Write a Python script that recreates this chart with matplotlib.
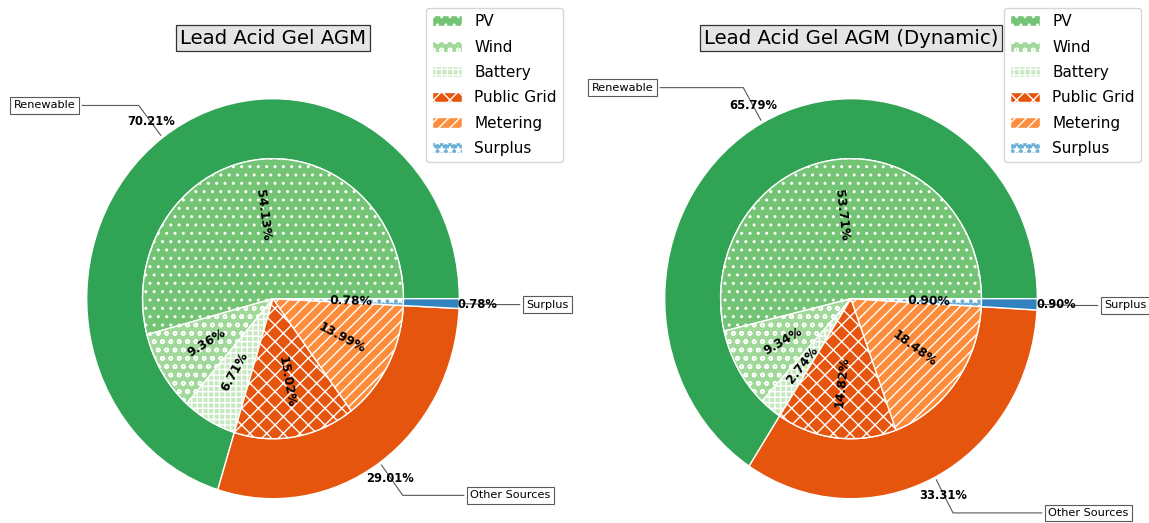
import matplotlib.pyplot as plt
import numpy as np

# ---------------------------------------------------------------
# data
# ---------------------------------------------------------------
inner_labels = ['PV', 'Wind', 'Battery', 'Public Grid', 'Metering', 'Surplus']
outer_labels = ['Renewable', 'Other Sources', 'Surplus']
titles = ['Lead Acid Gel AGM', 'Lead Acid Gel AGM (Dynamic)']

agm_inner = [54.13, 9.36, 6.71, 15.02, 13.99, 0.78]
agm_outer = [70.21, 29.01, 0.78]

dyn_inner = [53.71, 9.34, 2.74, 14.82, 18.48, 0.90]
dyn_outer = [65.79, 33.31, 0.90]

# styles
inner_colors = ['#74c476', '#a1d99b', '#c7e9c0', '#e6550d', '#fd8d3c', '#6baed6']
outer_colors = ['#31a354', '#e6550d', '#3182bd']
inner_hatches = ['..', 'oo', '+++', 'xx', '///', '**']
label_x = [-1.06, 1.06, 1.36]

W, H = 1149, 523
fig = plt.figure(figsize=(W / 100, H / 100), dpi=100)

# pixel geometry of each pie (centre and radius)
rx, ry = 186.3, 200.0
cy = 298.7
lim = 1.3


def make_axes(cx):
    # axes placed so the unit circle lands on the reference pixels
    w = 2 * lim * rx
    h = 2 * lim * ry
    left = cx - w / 2
    bottom = (H - cy) - h / 2
    return fig.add_axes([left / W, bottom / H, w / W, h / H])


def nested_pie(ax, inner, outer, title, cx, legend_right):
    # outer ring
    wo, _, to = ax.pie(outer, radius=1, colors=outer_colors,
                       autopct='%1.2f%%', pctdistance=1.1,
                       wedgeprops=dict(width=0.3, edgecolor='w', linewidth=1))
    for t, v in zip(to, outer):
        t.set_text(f'{v:.2f}%')
        t.set_fontsize(8.3)
        t.set_fontweight('bold')

    # inner pie
    wi, _, ti = ax.pie(inner, radius=0.7, colors=inner_colors,
                       autopct='%1.2f%%', pctdistance=0.6,
                       wedgeprops=dict(edgecolor='w', linewidth=1))
    for w, h in zip(wi, inner_hatches):
        w.set_hatch(h)
    for t, w, v in zip(ti, wi, inner):
        ang = (w.theta1 + w.theta2) / 2
        rot = ang - 180 if 90 < ang < 270 else ang
        t.set_text(f'{v:.2f}%')
        t.set_rotation(rot)
        t.set_fontsize(8.9)
        t.set_fontweight('bold')

    # labels of the outer ring
    bbox_props = dict(boxstyle='square,pad=0.3', fc='w', ec='0.35', lw=0.8)
    for i, w in enumerate(wo):
        ang = (w.theta1 + w.theta2) / 2
        x = np.cos(np.deg2rad(ang))
        y = np.sin(np.deg2rad(ang))
        ha = 'right' if x < 0 else 'left'
        ax.annotate(outer_labels[i], xy=(x, y), xytext=(label_x[i], 1.2 * y),
                    ha=ha, va='center', fontsize=8.1, bbox=bbox_props, zorder=0,
                    arrowprops=dict(arrowstyle='-', color='0.35', lw=0.8,
                                    connectionstyle=f'angle,angleA=0,angleB={ang}'))

    ax.set_aspect('auto')
    ax.set_xlim(-lim, lim)
    ax.set_ylim(-lim, lim)
    ax.axis('off')

    # title box
    fig.text(cx / W, 1 - 38 / H, title, ha='center', va='center', fontsize=14.2,
             bbox=dict(boxstyle='square,pad=0.2', fc='#e5e5e5', ec='0.2', lw=0.9))

    # legend
    fig.legend(wi, inner_labels, loc='upper right', fontsize=11, labelspacing=0.68,
               bbox_to_anchor=(legend_right / W, 1 - 8 / H), borderaxespad=0)


ax1 = make_axes(273)
nested_pie(ax1, agm_inner, agm_outer, titles[0], 273, 563)

ax2 = make_axes(851)
nested_pie(ax2, dyn_inner, dyn_outer, titles[1], 851, 1141)

fig.savefig('out.png', dpi=100)
